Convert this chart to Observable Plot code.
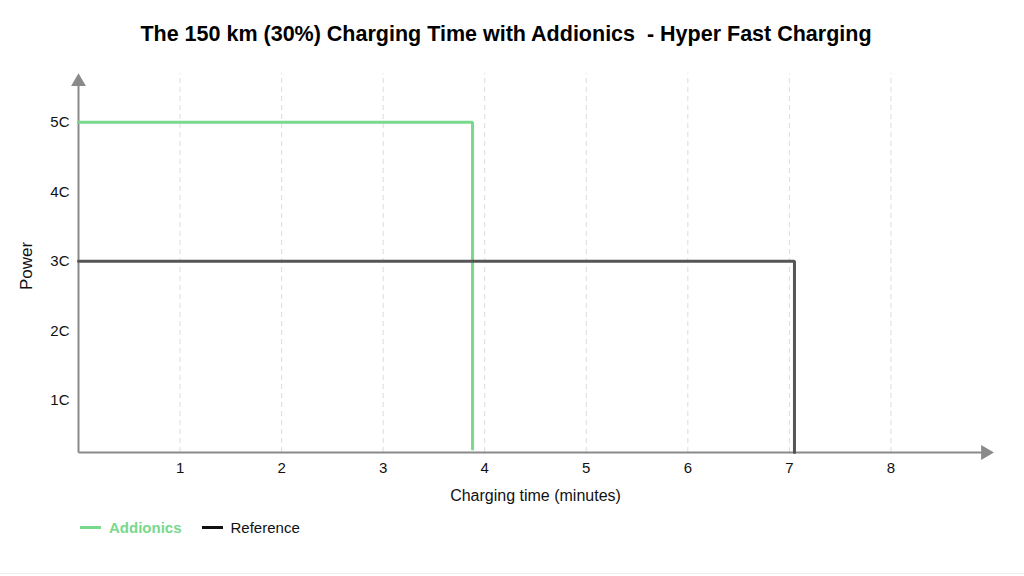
<!DOCTYPE html>
<html>
<head>
<meta charset="utf-8">
<script src="https://cdn.jsdelivr.net/npm/d3@7"></script>
<script src="https://cdn.jsdelivr.net/npm/@observablehq/plot@0.6"></script>
<style>
  html, body { margin: 0; padding: 0; background: #fff; }
  body { width: 1024px; height: 576px; position: relative; overflow: hidden;
         font-family: "Liberation Sans", Arial, Helvetica, sans-serif; }
  #title { position: absolute; top: 22px; left: 0; width: 1012px; text-align: center;
           font-size: 21.5px; line-height: 24px; font-weight: bold; white-space: pre; color: #000; }
  #chart { position: absolute; top: 60px; left: 0; }
  #legend { position: absolute; top: 519px; left: 80px; display: flex; align-items: center;
            font-size: 15px; }
  .item { display: flex; align-items: center; margin-right: 20px; }
  .sw { width: 21px; height: 3px; margin-right: 8px; }
  #footer { position: absolute; top: 573px; left: 0; width: 1024px; border-top: 1px solid #eee; }
</style>
</head>
<body>
<div id="title"></div>
<div id="chart"></div>
<div id="legend"></div>
<div id="footer"></div>
<script>
const titleText = "The 150 km (30%) Charging Time with Addionics  - Hyper Fast Charging";
const xLabel = "Charging time (minutes)";
const yLabel = "Power";
const xTicks = [1, 2, 3, 4, 5, 6, 7, 8];
const yTicks = [1, 2, 3, 4, 5];
const series = ["Addionics", "Reference"];
const chargeRate = [5, 3];          // C-rate held during charging
const chargeEnd = [3.88, 7.05];     // minutes at which charging stops
const dropTo = [0.3, 0.25];         // where the vertical drop ends
const colors = ["#78d88b", "#555555"];
const legendColors = ["#78d88b", "#111111"];
const xDomain = [0, 9];
const yDomain = [0.25, 5.7];

document.getElementById("title").textContent = titleText;

const points = [];
series.forEach((s, i) => {
  points.push({series: s, t: 0, p: chargeRate[i], order: 0});
  points.push({series: s, t: chargeEnd[i], p: chargeRate[i], order: 1});
  points.push({series: s, t: chargeEnd[i], p: dropTo[i], order: 2});
});

const axisColor = "#8a8a8a";
const xArrowEnd = 8.93;
const yArrowEnd = 5.58;

const chart = Plot.plot({
  width: 1024,
  height: 450,
  marginLeft: 78,
  marginRight: 32,
  marginTop: 13,
  marginBottom: 58,
  style: {fontFamily: "Liberation Sans, Arial, Helvetica, sans-serif", fontSize: "15px", color: "#111"},
  x: {domain: xDomain},
  y: {domain: yDomain},
  color: {domain: series, range: colors},
  marks: [
    Plot.ruleX(xTicks, {y1: yDomain[0], y2: yDomain[1], stroke: "#dcdcdc", strokeDasharray: "5,4", strokeWidth: 1}),
    Plot.axisX(xTicks, {tickSize: 0, tickPadding: 10, label: null, fontSize: 15}),
    Plot.axisY(yTicks, {tickSize: 0, tickPadding: 9, tickFormat: d => d + "C", label: null, fontSize: 15}),
    Plot.text([xLabel], {frameAnchor: "bottom", dy: 48, fontSize: 16, fill: "#111"}),
    Plot.text([yLabel], {frameAnchor: "left", textAnchor: "middle", dx: -52, dy: 3, rotate: -90, fontSize: 17, fill: "#111"}),
    // axes with arrow heads
    Plot.link([0], {x1: xDomain[0], x2: xArrowEnd, y1: yDomain[0], y2: yDomain[0], stroke: axisColor, strokeWidth: 2}),
    Plot.link([0], {x1: xDomain[0], x2: xDomain[0], y1: yDomain[0], y2: yArrowEnd, stroke: axisColor, strokeWidth: 2}),
    Plot.dot([0], {x: xArrowEnd, y: yDomain[0], symbol: "triangle", r: 5.5, fill: axisColor, stroke: null, rotate: 90}),
    Plot.dot([0], {x: xDomain[0], y: yArrowEnd, symbol: "triangle", r: 5.5, fill: axisColor, stroke: null}),
    Plot.line(points, {x: "t", y: "p", z: "series", stroke: "series", strokeWidth: 3, sort: "order", strokeLinejoin: "miter"})
  ]
});
document.getElementById("chart").appendChild(chart);

const legend = document.getElementById("legend");
series.forEach((s, i) => {
  const item = document.createElement("div");
  item.className = "item";
  const sw = document.createElement("div");
  sw.className = "sw";
  sw.style.background = legendColors[i];
  const label = document.createElement("span");
  label.textContent = s;
  if (i === 0) { label.style.color = colors[0]; label.style.fontWeight = "bold"; }
  else { label.style.color = "#111"; }
  item.appendChild(sw);
  item.appendChild(label);
  legend.appendChild(item);
});
</script>
</body>
</html>
